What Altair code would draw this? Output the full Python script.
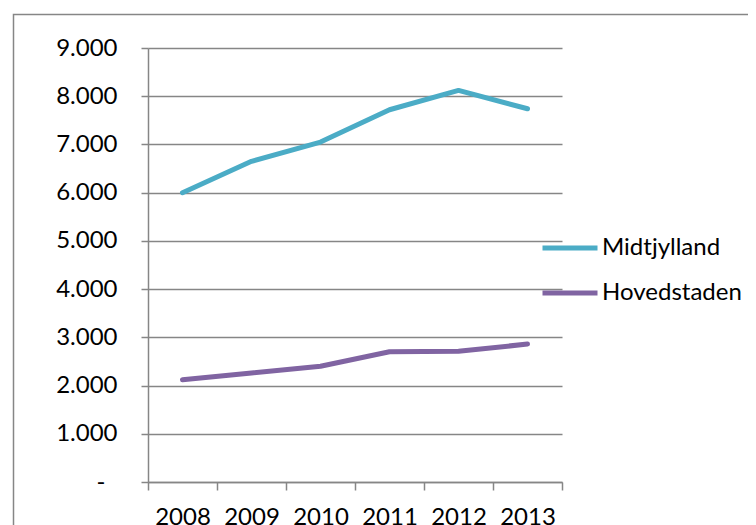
import altair as alt
import pandas as pd

years = ["2008", "2009", "2010", "2011", "2012", "2013"]
midtjylland = [6000, 6650, 7050, 7720, 8120, 7740]
hovedstaden = [2120, 2260, 2400, 2700, 2710, 2860]
series = ["Midtjylland", "Hovedstaden"]
colors = ["#4BACC6", "#8064A2"]
y_ticks = [0, 1000, 2000, 3000, 4000, 5000, 6000, 7000, 8000, 9000]

rows = []
for name, vals in zip(series, [midtjylland, hovedstaden]):
    for yr, v in zip(years, vals):
        rows.append({"year": yr, "value": v, "series": name})
df = pd.DataFrame(rows)

FONT = "Lato"
FS = 24
GRAY = "#868686"

label_expr = ("datum.value == 0 ? '-' : "
              "replace(format(datum.value, ','), ',', '.')")

lines = alt.Chart(df).mark_line(
    strokeWidth=5, strokeCap="round", strokeJoin="round"
).encode(
    x=alt.X(
        "year:O",
        sort=years,
        scale=alt.Scale(type="band", paddingInner=0, paddingOuter=0),
        axis=alt.Axis(
            title=None, labelAngle=0, tickBand="extent", tickSize=8,
            labelPadding=15, domainColor=GRAY, tickColor=GRAY,
            domainWidth=1.5, tickWidth=1.5, grid=False,
            labelFont=FONT, labelFontSize=FS, labelColor="#000000",
        ),
    ),
    y=alt.Y(
        "value:Q",
        scale=alt.Scale(domain=[0, 9000], nice=False),
        axis=alt.Axis(
            title=None, values=y_ticks, labelExpr=label_expr,
            tickSize=7,
            labelPadding=alt.ExprRef(expr="datum.value == 0 ? 36 : 24"),
            domainColor=GRAY, tickColor=GRAY,
            domainWidth=1.5, tickWidth=1.5, gridColor=GRAY, gridWidth=1.5,
            labelFont=FONT, labelFontSize=FS, labelColor="#000000",
        ),
    ),
    color=alt.Color(
        "series:N",
        scale=alt.Scale(domain=series, range=colors),
        legend=alt.Legend(
            title=None, orient="none", legendX=392, legendY=170,
            symbolType="stroke", symbolSize=3025, symbolStrokeWidth=5,
            labelFont=FONT, labelFontSize=FS, labelColor="#000000",
            labelOffset=2, padding=0, rowPadding=3,
        ),
    ),
)

frame = alt.Chart(pd.DataFrame({"a": [0]})).mark_rect(
    fill="transparent", stroke=GRAY, strokeWidth=1.5
).encode(
    x=alt.value(-134.5), x2=alt.value(900),
    y=alt.value(-33.5), y2=alt.value(800),
)

chart = alt.layer(frame, lines).properties(
    width=414, height=434,
    padding={"left": 140, "top": 40, "right": 186, "bottom": 43},
    autosize=alt.AutoSizeParams(type="none"),
).configure_view(stroke=None)

chart.save("out.html", embed_options={"renderer": "svg", "actions": False})
